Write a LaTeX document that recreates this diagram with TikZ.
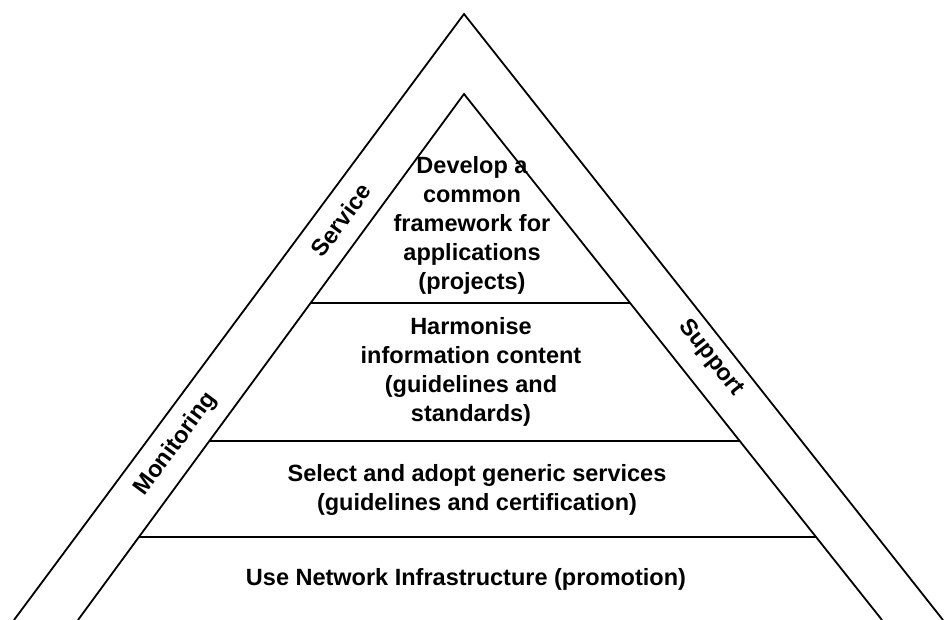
\documentclass[tikz,border=0pt]{standalone}
\usepackage{fontspec}
\setmainfont{Liberation Sans}
\begin{document}
\begin{tikzpicture}[x=1bp,y=-1bp,line join=miter,
  edge/.style={line width=1.8bp},
  tier/.style={line width=1.3bp},
  lbl/.style={font=\bfseries\fontsize{23.5bp}{29bp}\selectfont,align=center,inner sep=0pt},
  side/.style={font=\bfseries\fontsize{23.5bp}{29bp}\selectfont,inner sep=0pt}]
\useasboundingbox (0,0) rectangle (944,620);

% outer and inner triangles (bases run off the bottom edge)
\coordinate (oA) at (464,14);
\coordinate (oL) at (14,620);
\coordinate (oR) at (943,620);
\coordinate (iA) at (464,94);
\coordinate (iL) at (78,620);
\coordinate (iR) at (882,620);
\draw[edge] (oL) -- (oA) -- (oR);
\draw[edge] (iL) -- (iA) -- (iR);

% tier separators inside the inner triangle
\coordinate (s1l) at (310.6,303); \coordinate (s1r) at (630.2,303);
\coordinate (s2l) at (209.3,441); \coordinate (s2r) at (739.9,441);
\coordinate (s3l) at (138.8,537); \coordinate (s3r) at (816.2,537);
\draw[tier] (s1l) -- (s1r);
\draw[tier] (s2l) -- (s2r);
\draw[tier] (s3l) -- (s3r);

% tier texts
\node[lbl] (t1) at (472,225) {Develop a\\common\\framework for\\applications\\(projects)};
\node[lbl] (t2) at (471,372) {Harmonise\\information content\\(guidelines and\\standards)};
\node[lbl] (t3) at (477,490) {Select and adopt generic services\\(guidelines and certification)};
\node[lbl] (t4) at (466,579) {Use Network Infrastructure (promotion)};

% labels along the outer band
\node[side,rotate=53.5] (sv) at (341,220) {Service};
\node[side,rotate=53.5] (mo) at (176,444) {Monitoring};
\node[side,rotate=-51.7] (su) at (711,358) {Support};
\end{tikzpicture}
\end{document}
